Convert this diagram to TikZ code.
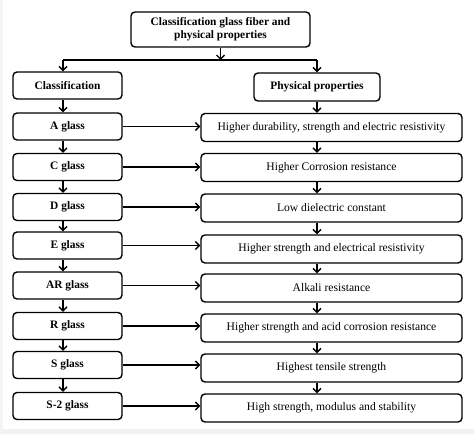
\documentclass[tikz,border=0pt]{standalone}
\usepackage{fontspec}
\setmainfont{Liberation Serif}
\usetikzlibrary{arrows.meta}
\begin{document}
\begin{tikzpicture}[x=1pt,y=-1pt,
  box/.style={draw, line width=1.4pt, rounded corners=4pt, inner sep=0pt, align=center,
    font=\fontsize{11.6}{13}\selectfont},
  hbox/.style={box, font=\fontsize{11.4}{13}\selectfont\bfseries},
  lbox/.style={hbox, minimum width=109pt, minimum height=27pt},
  rbox/.style={box, minimum width=261pt, minimum height=28pt},
  arr/.style={line width=1.3pt, -{Straight Barb[length=4pt,width=8pt,line width=1.3pt]}},
  ln/.style={line width=1.3pt}]
\useasboundingbox (0,0) rectangle (474,434);
\fill[gray!10] (0,429) rectangle (474,434);
\fill[gray!8] (0,0) rectangle (2.5,429);

\node[hbox, minimum width=179pt, minimum height=35pt] (top) at (220.5,29.5) {Classification glass fiber and\\physical properties};
\node[hbox, minimum width=109pt, minimum height=27pt] (cls) at (67.5,85.5) {Classification};
\node[hbox, minimum width=126pt, minimum height=28pt] (phys) at (317,87) {Physical properties};

\node[lbox] (a) at (67.5,126.5) {A glass};
\node[lbox] (c) at (67.5,167) {C glass};
\node[lbox] (d) at (67.5,207) {D glass};
\node[lbox] (e) at (67.5,245.5) {E glass};
\node[lbox] (ar) at (67.5,285.5) {AR glass};
\node[lbox] (r) at (67.5,326) {R glass};
\node[lbox] (s) at (67.5,365) {S glass};
\node[lbox] (s2) at (67.5,406) {S-2 glass};

\node[rbox] (pa) at (331.5,127.5) {Higher durability, strength and electric resistivity};
\node[rbox] (pc) at (331.5,167.5) {Higher Corrosion resistance};
\node[rbox] (pd) at (331.5,208) {Low dielectric constant};
\node[rbox] (pe) at (331.5,249) {Higher strength and electrical resistivity};
\node[rbox] (par) at (331.5,288) {Alkali resistance};
\node[rbox] (pr) at (331.5,328) {Higher strength and acid corrosion resistance};
\node[rbox] (ps) at (331.5,368) {Highest tensile strength};
\node[rbox] (ps2) at (331.5,408) {High strength, modulus and stability};

\coordinate (split) at (220.5,60);
\coordinate (jl) at (63,60);
\coordinate (jr) at (317,60);

\draw[arr] (top.south) -- (split);
\draw[ln] (jl) -- (jr);
\draw[arr] (jl) -- (jl |- cls.north);
\draw[arr] (jr) -- (phys.north);

\foreach \u/\v in {cls/a, a/c, c/d, d/e, e/ar, ar/r, r/s, s/s2}
  \draw[arr] (\u.south -| jl) -- (\v.north -| jl);
\foreach \u/\v in {phys/pa, pa/pc, pc/pd, pd/pe, pe/par, par/pr, pr/ps, ps/ps2}
  \draw[arr] (\u.south -| jr) -- (\v.north -| jr);
\foreach \u/\v in {a/pa, c/pc, d/pd, e/pe, ar/par, r/pr, s/ps, s2/ps2}
  \draw[arr] (\u.east) -- (\u.east -| \v.west);
\end{tikzpicture}
\end{document}
